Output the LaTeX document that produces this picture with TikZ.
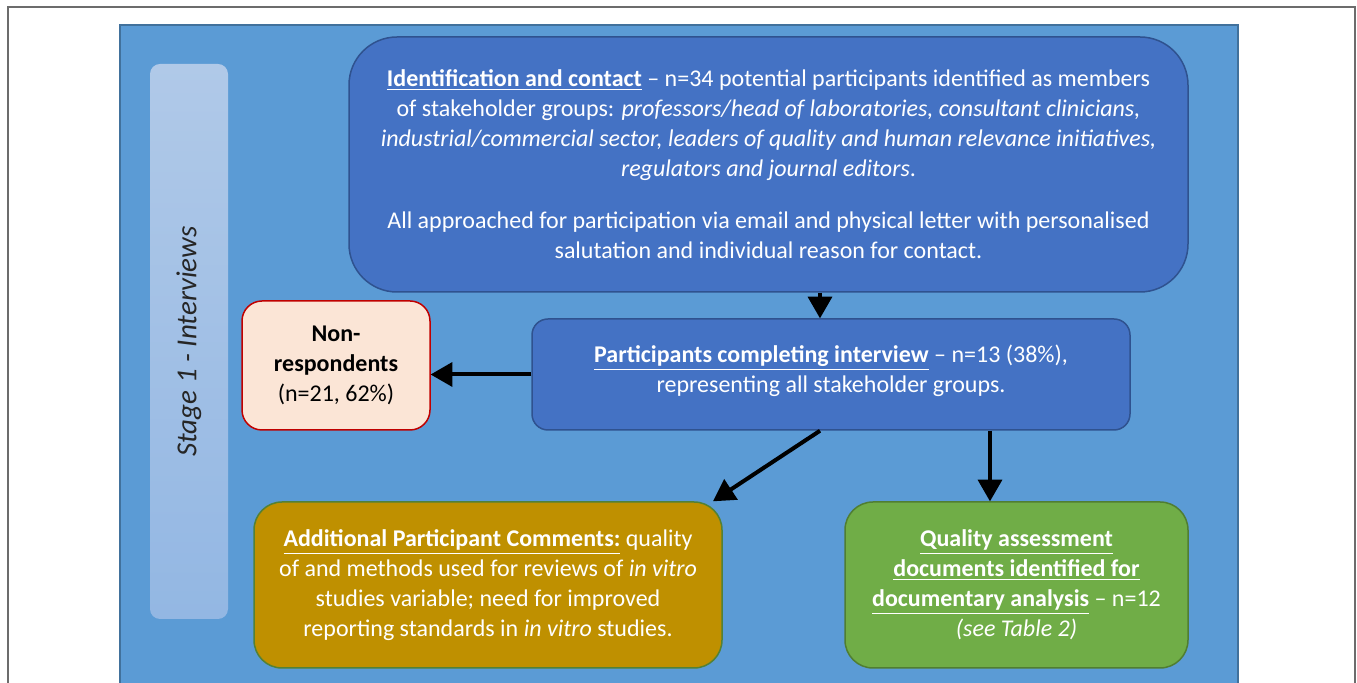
\documentclass[tikz,border=0pt]{standalone}
\usepackage{fontspec}
\setmainfont{Carlito}
\usetikzlibrary{arrows}
\definecolor{panelblue}{HTML}{5B9BD5}
\definecolor{paneledge}{HTML}{41719C}
\definecolor{boxblue}{HTML}{4472C4}
\definecolor{boxedge}{HTML}{2F528F}
\definecolor{stagetop}{HTML}{B0C9E8}
\definecolor{stagebot}{HTML}{93B7E3}
\definecolor{nonfill}{HTML}{FBE5D6}
\definecolor{nonedge}{HTML}{C00000}
\definecolor{ochre}{HTML}{BF9000}
\definecolor{ochreedge}{HTML}{538135}
\definecolor{leaf}{HTML}{70AD47}
\definecolor{leafedge}{HTML}{507E32}
\newcommand{\boxhead}[1]{\underline{\textbf{#1}}}

\begin{document}
\begin{tikzpicture}[x = 0.5pt, y = -0.5pt, every node/.style = {rectangle, align = center, text = white, line width = 0.75pt, font = \fontsize{12}{15}\selectfont}]

	\clip (0, 0) rectangle (1357, 683);
	\draw [draw = gray!85!black, line width = 0.75pt] (8, 7) rectangle (1355, 720);
	\draw [fill = panelblue, draw = paneledge, line width = 0.75pt] (120, 25) rectangle (1238, 720);

	\node (ST)  at ( 189, 341.5) [rotate = 90, minimum width = 277.5pt, minimum height = 39pt, rounded corners = 5pt, top color = stagetop, bottom color = stagebot, draw = none, text = black!85, font = \fontsize{14.5}{17}\selectfont\itshape] {Stage 1 - Interviews};
	\node (ID)  at ( 768.5, 164.5) [minimum width = 419.5pt, minimum height = 127.5pt, rounded corners = 24pt, fill = boxblue, draw = boxedge] {\boxhead{Identification and contact} -- n=34 potential participants identified as members\\ of stakeholder groups: \textit{professors/head of laboratories, consultant clinicians,}\\ \textit{industrial/commercial sector, leaders of quality and human relevance initiatives,}\\ \textit{regulators and journal editors}.\\[11pt] All approached for participation via email and physical letter with personalised\\ salutation and individual reason for contact.};
	\node (NR)  at ( 336, 365.5) [minimum width = 94pt, minimum height = 64.5pt, rounded corners = 10pt, fill = nonfill, draw = nonedge, text = black] {\textbf{Non-}\\ \textbf{respondents}\\ (n=21, 62\%)};
	\node (PC)  at ( 831, 374.5) [minimum width = 299pt, minimum height = 55.5pt, rounded corners = 8pt, fill = boxblue, draw = boxedge] {\boxhead{Participants completing interview} -- n=13 (38\%),\\ representing all stakeholder groups.\\[-9pt]};
	\node (AC)  at ( 488, 585) [minimum width = 234pt, minimum height = 83pt, rounded corners = 14pt, fill = ochre, draw = ochreedge] {\boxhead{Additional Participant Comments:} quality\\ of and methods used for reviews of \textit{in vitro}\\ studies variable; need for improved\\ reporting standards in \textit{in vitro} studies.};
	\node (QA)  at (1016.5, 585) [minimum width = 171.5pt, minimum height = 83pt, rounded corners = 14pt, fill = leaf, draw = leafedge] {\boxhead{Quality assessment}\\ \boxhead{documents identified for}\\ \boxhead{documentary analysis} -- n=12\\ \textit{(see Table 2)}};

	\path (ID.south -| 820, 0) edge [-triangle 60, line width = 2pt] (PC.north -| 820, 0);
	\path (PC.west) edge [-triangle 60, line width = 2pt] (NR.east |- PC.west);
	\path (PC.south -| 820, 0) edge [-triangle 60, line width = 2pt] (AC.north -| 713, 0);
	\path (PC.south -| 990, 0) edge [-triangle 60, line width = 2pt] (QA.north -| 990, 0);

\end{tikzpicture}
\end{document}
